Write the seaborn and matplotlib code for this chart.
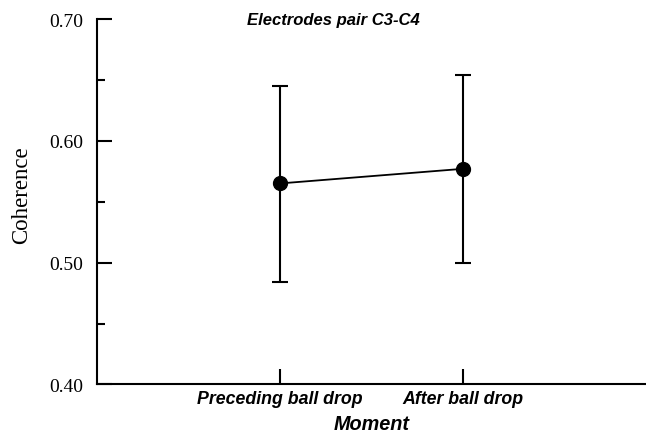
import matplotlib
matplotlib.use("Agg")
import matplotlib.pyplot as plt
from matplotlib.ticker import MultipleLocator, FormatStrFormatter
import seaborn as sns

# values
moments = ["Preceding ball drop", "After ball drop"]
coherence = [0.565, 0.577]
ci_low = [0.484, 0.500]
ci_high = [0.645, 0.654]

sns.set_style("ticks")
plt.rcParams['font.family'] = ['Liberation Serif', 'DejaVu Serif']
plt.rcParams['text.color'] = 'black'
plt.rcParams['axes.labelcolor'] = 'black'
plt.rcParams['xtick.color'] = 'black'
plt.rcParams['ytick.color'] = 'black'

sans = ['Liberation Sans', 'DejaVu Sans']

fig = plt.figure(figsize=(6.46, 4.35), dpi=100)
ax = fig.add_axes([0.150, 0.114, 0.85, 0.840])

sns.pointplot(x=moments, y=coherence, errorbar=None, color='black',
              markers='o', markersize=10, linewidth=1.3, ax=ax)
pos = list(range(len(moments)))
yerr = [[c - l for c, l in zip(coherence, ci_low)],
        [h - c for c, h in zip(coherence, ci_high)]]
ax.errorbar(pos, coherence, yerr=yerr, fmt='none', ecolor='black',
            elinewidth=1.5, capsize=6, capthick=1.5, zorder=1)

ax.set_xlim(-1, 2)
ax.set_ylim(0.40, 0.70)
ax.yaxis.set_major_locator(MultipleLocator(0.10))
ax.yaxis.set_minor_locator(MultipleLocator(0.05))
ax.yaxis.set_major_formatter(FormatStrFormatter('%.2f'))

sns.despine(ax=ax)
for s in ['left', 'bottom']:
    ax.spines[s].set_linewidth(1.5)
    ax.spines[s].set_color('black')

ax.tick_params(axis='y', which='major', direction='in', length=11, width=1.5,
               pad=10, labelsize=14)
ax.tick_params(axis='y', which='minor', direction='in', length=6, width=1.5)
ax.tick_params(axis='x', direction='in', length=11, width=1.5, pad=4)
for lab in ax.get_xticklabels():
    lab.set_family(sans)
    lab.set_fontweight('bold')
    lab.set_fontstyle('italic')
    lab.set_fontsize(12.8)

ax.set_xlabel('Moment', family=sans, fontweight='bold', fontstyle='italic',
              fontsize=14.3)
ax.xaxis.set_label_coords(0.5, -0.080)
ax.set_ylabel('Coherence', fontsize=16.5)
ax.yaxis.set_label_coords(-0.118, 0.52)
ax.text(0.43, 1.0, 'Electrodes pair C3-C4', transform=ax.transAxes,
        ha='center', va='center', family=sans,
        fontweight='bold', fontstyle='italic', fontsize=12)

fig.savefig('out.png', dpi=100)
